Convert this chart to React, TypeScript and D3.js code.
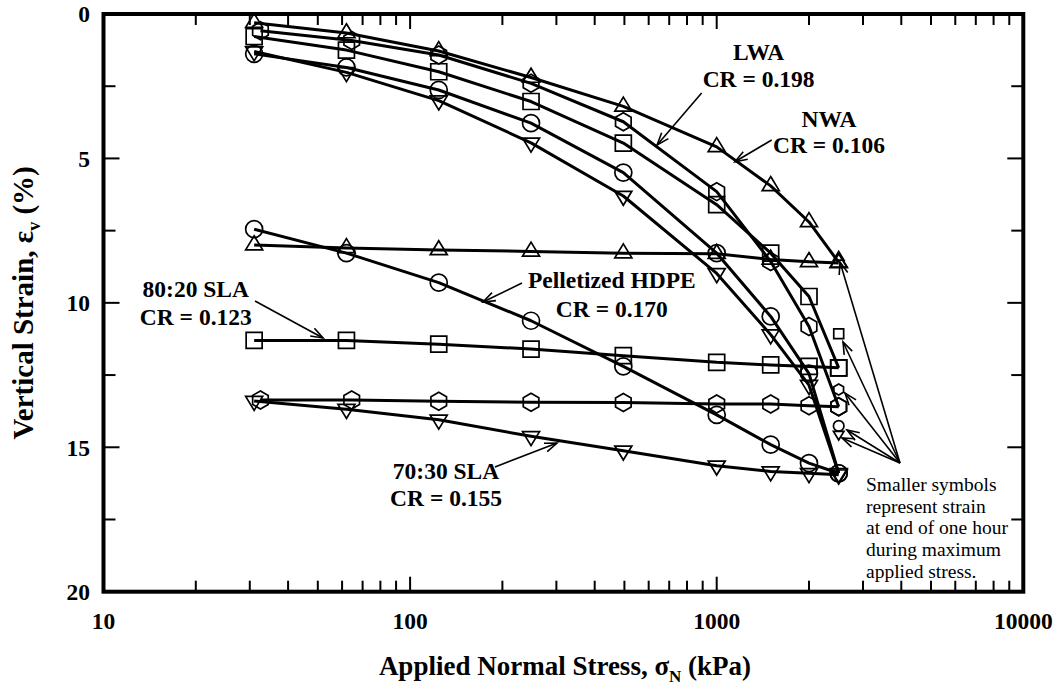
import React from "react";
import * as d3 from "d3";

// ---- data ----
const stressKPa = [31, 62, 124, 248, 496, 1000, 1500, 2000, 2500];
const stressHex = [32.5, 64.5, 124, 248, 496, 1000, 1500, 2000, 2500];

// loading curves (steep)
const triLoading = [0.3, 0.66, 1.28, 2.2, 3.2, 4.6, 5.95, 7.2, 8.6];
const hexLoading = [0.58, 0.92, 1.42, 2.4, 3.73, 6.15, 8.57, 10.82, 13.6];
const sqLoading = [0.78, 1.25, 2.0, 3.03, 4.47, 6.6, 8.28, 9.78, 12.25];
const circLoading = [1.38, 1.85, 2.63, 3.78, 5.49, 8.28, 10.47, 12.45, 15.9];
const dtriLoading = [1.3, 2.02, 3.0, 4.46, 6.3, 8.98, 11.1, 12.85, 15.9];

// flatter curves
const triFlat = [8.0, 8.1, 8.17, 8.22, 8.28, 8.3, 8.5, 8.58, 8.62];
const circFlat = [7.45, 8.28, 9.3, 10.62, 12.2, 13.88, 14.91, 15.55, 15.9];
const sqFlat = [11.3, 11.3, 11.43, 11.6, 11.83, 12.06, 12.15, 12.2, 12.25];
const hexFlat = [13.36, 13.36, 13.41, 13.44, 13.45, 13.5, 13.5, 13.56, 13.6];
const dtriFlat = [13.4, 13.68, 14.05, 14.62, 15.12, 15.64, 15.84, 15.9, 15.95];

// smaller symbols: strain at end of one hour at maximum stress
const maxStress = [2500, 2500, 2500, 2500, 2500];
const oneHourStrain = [8.42, 11.07, 13.0, 14.26, 14.55];
const oneHourSymbols = ["tri", "sq", "hex", "circ", "dtri"];

const xTickLabels = [10, 100, 1000, 10000];
const yTickLabels = [0, 5, 10, 15, 20];
const yMinorTicks = [2.5, 7.5, 12.5, 17.5];

const noteLines = [
  "Smaller symbols",
  "represent strain",
  "at end of one hour",
  "during maximum",
  "applied stress.",
];

type Sym = "tri" | "dtri" | "sq" | "circ" | "hex";

const series: { xs: number[]; ys: number[]; sym: Sym }[] = [
  { xs: stressKPa, ys: triLoading, sym: "tri" },
  { xs: stressHex, ys: hexLoading, sym: "hex" },
  { xs: stressKPa, ys: sqLoading, sym: "sq" },
  { xs: stressKPa, ys: circLoading, sym: "circ" },
  { xs: stressKPa, ys: dtriLoading, sym: "dtri" },
  { xs: stressKPa, ys: triFlat, sym: "tri" },
  { xs: stressKPa, ys: circFlat, sym: "circ" },
  { xs: stressKPa, ys: sqFlat, sym: "sq" },
  { xs: stressHex, ys: hexFlat, sym: "hex" },
  { xs: stressKPa, ys: dtriFlat, sym: "dtri" },
];

function symbolPath(sym: string, s: number): string {
  switch (sym) {
    case "tri": {
      const w = 8.5 * s, a = 9.3 * s, b = 4.7 * s;
      return `M0,${-a}L${w},${b}L${-w},${b}Z`;
    }
    case "dtri": {
      const w = 8.5 * s, a = 9.3 * s, b = 4.7 * s;
      return `M0,${a}L${w},${-b}L${-w},${-b}Z`;
    }
    case "sq": {
      const h = 8 * s;
      return `M${-h},${-h}H${h}V${h}H${-h}Z`;
    }
    case "hex": {
      const R = 9 * s;
      const pts = d3.range(6).map((i) => {
        const ang = ((-90 + 60 * i) * Math.PI) / 180;
        return [R * Math.cos(ang), R * Math.sin(ang)];
      });
      return "M" + pts.map((p) => p.join(",")).join("L") + "Z";
    }
    default: {
      const r = 8.5 * s;
      return `M${r},0A${r},${r} 0 1,1 ${-r},0A${r},${r} 0 1,1 ${r},0Z`;
    }
  }
}

const SERIF = "'Liberation Serif', 'Times New Roman', Times, serif";

export default function App() {
  const W = 1057, H = 688;
  const x = d3.scaleLog().domain([10, 10000]).range([103.5, 1023.3]);
  const y = d3.scaleLinear().domain([0, 20]).range([14, 591.7]);
  const left = x.range()[0], right = x.range()[1];
  const top = y.range()[0], bottom = y.range()[1];

  const line = d3
    .line<[number, number]>()
    .x((d) => x(d[0]))
    .y((d) => y(d[1]));

  const xMinor = x.ticks().filter((t) => !xTickLabels.includes(t));

  // annotations in data units [stress, strain]
  const labels = [
    { lines: ["LWA", "CR = 0.198"], at: [1370, 1.59], dy: 0.93 },
    { lines: ["NWA", "CR = 0.106"], at: [2324, 3.91], dy: 0.9 },
    { lines: ["80:20 SLA", "CR = 0.123"], at: [20, 9.8], dy: 0.97 },
    { lines: ["Pelletized HDPE", "CR = 0.170"], at: [455, 9.49], dy: 1.0 },
    { lines: ["70:30 SLA", "CR = 0.155"], at: [131, 16.1], dy: 0.93 },
  ];
  const arrows: [number, number, number, number][] = [
    [893, 2.735, 639, 4.535],
    [1511, 4.362, 1147, 5.113],
    [31.2, 9.936, 52, 11.217],
    [231.7, 9.313, 172.9, 9.97],
    [189.2, 15.683, 301.4, 14.852],
    [3961, 15.544, 2524, 8.586],
    [3961, 15.544, 2582, 11.355],
    [3961, 15.544, 2621, 13.121],
    [3961, 15.544, 2661, 14.402],
    [3961, 15.544, 2563, 14.679],
  ];

  const arrowHead = (x1: number, y1: number, x2: number, y2: number) => {
    const ang = Math.atan2(y2 - y1, x2 - x1);
    const len = 13, spread = (20 * Math.PI) / 180;
    const a1 = [x2 - len * Math.cos(ang - spread), y2 - len * Math.sin(ang - spread)];
    const a2 = [x2 - len * Math.cos(ang + spread), y2 - len * Math.sin(ang + spread)];
    return `M${a1[0]},${a1[1]}L${x2},${y2}L${a2[0]},${a2[1]}`;
  };

  return (
    <svg
      width={W}
      height={H}
      style={{ position: "absolute", left: 0, top: 0, background: "#fff" }}
      fontFamily={SERIF}
    >
      <rect width={W} height={H} fill="#fff" />

      {/* ticks */}
      <g stroke="#000" strokeWidth={2}>
        {xTickLabels.map((t) => (
          <g key={"xm" + t}>
            <line x1={x(t)} x2={x(t)} y1={bottom} y2={bottom - 15} />
            <line x1={x(t)} x2={x(t)} y1={top} y2={top + 15} />
          </g>
        ))}
        {xMinor.map((t) => (
          <g key={"xn" + t}>
            <line x1={x(t)} x2={x(t)} y1={bottom} y2={bottom - 11} />
            <line x1={x(t)} x2={x(t)} y1={top} y2={top + 11} />
          </g>
        ))}
        {yTickLabels.map((t) => (
          <g key={"ym" + t}>
            <line x1={left} x2={left + 16} y1={y(t)} y2={y(t)} />
            <line x1={right} x2={right - 16} y1={y(t)} y2={y(t)} />
          </g>
        ))}
        {yMinorTicks.map((t) => (
          <g key={"yn" + t}>
            <line x1={left} x2={left + 12} y1={y(t)} y2={y(t)} />
            <line x1={right} x2={right - 12} y1={y(t)} y2={y(t)} />
          </g>
        ))}
      </g>

      {/* frame */}
      <rect
        x={left}
        y={top}
        width={right - left}
        height={bottom - top}
        fill="none"
        stroke="#000"
        strokeWidth={4}
      />

      {/* tick labels */}
      <g fontWeight="bold" fontSize={23.5} fill="#000">
        {xTickLabels.map((t) => (
          <text key={"xl" + t} x={x(t)} y={628.5} textAnchor="middle">
            {t}
          </text>
        ))}
        {yTickLabels.map((t) => (
          <text key={"yl" + t} x={90} y={y(t)} dy="0.35em" textAnchor="end">
            {t}
          </text>
        ))}
      </g>

      {/* axis titles */}
      <text x={565} y={675} textAnchor="middle" fontWeight="bold" fontSize={27}>
        Applied Normal Stress, σ
        <tspan fontSize={17} dy={7}>N</tspan>
        <tspan dy={-7}> (kPa)</tspan>
      </text>
      <text
        transform={`translate(33,${(top + bottom) / 2}) rotate(-90)`}
        textAnchor="middle"
        fontWeight="bold"
        fontSize={29}
      >
        Vertical Strain, ε
        <tspan fontSize={18} dy={7}>v</tspan>
        <tspan dy={-7}> (%)</tspan>
      </text>

      {/* lines */}
      <g fill="none" stroke="#000" strokeWidth={3} strokeLinejoin="round">
        {series.map((s, i) => (
          <path
            key={"l" + i}
            d={line(s.xs.map((v, j) => [v, s.ys[j]] as [number, number])) || ""}
          />
        ))}
      </g>

      {/* markers */}
      <g fill="none" stroke="#000" strokeWidth={1.7}>
        {series.map((s, i) =>
          s.xs.map((v, j) => (
            <path
              key={"m" + i + "-" + j}
              transform={`translate(${x(v)},${y(s.ys[j])})`}
              d={symbolPath(s.sym, 1)}
            />
          ))
        )}
        {maxStress.map((v, j) => (
          <path
            key={"s" + j}
            transform={`translate(${x(v)},${y(oneHourStrain[j])})`}
            d={symbolPath(oneHourSymbols[j], 0.62)}
          />
        ))}
      </g>

      {/* annotation arrows */}
      <g fill="none" stroke="#000" strokeWidth={1.6}>
        {arrows.map((a, i) => {
          const x1 = x(a[0]), y1 = y(a[1]), x2 = x(a[2]), y2 = y(a[3]);
          return (
            <g key={"a" + i}>
              <line x1={x1} y1={y1} x2={x2} y2={y2} />
              <path d={arrowHead(x1, y1, x2, y2)} />
            </g>
          );
        })}
      </g>

      {/* labels */}
      <g fontWeight="bold" fontSize={23.5} textAnchor="middle" fill="#000">
        {labels.map((l, i) =>
          l.lines.map((t, k) => (
            <text key={"t" + i + k} x={x(l.at[0])} y={y(l.at[1] + k * l.dy)}>
              {t}
            </text>
          ))
        )}
      </g>

      {/* note */}
      <g fontSize={19.5} fill="#000">
        {noteLines.map((t, k) => (
          <text key={"n" + k} x={x(3069)} y={y(16.514) + k * 21.7}>
            {t}
          </text>
        ))}
      </g>
    </svg>
  );
}
